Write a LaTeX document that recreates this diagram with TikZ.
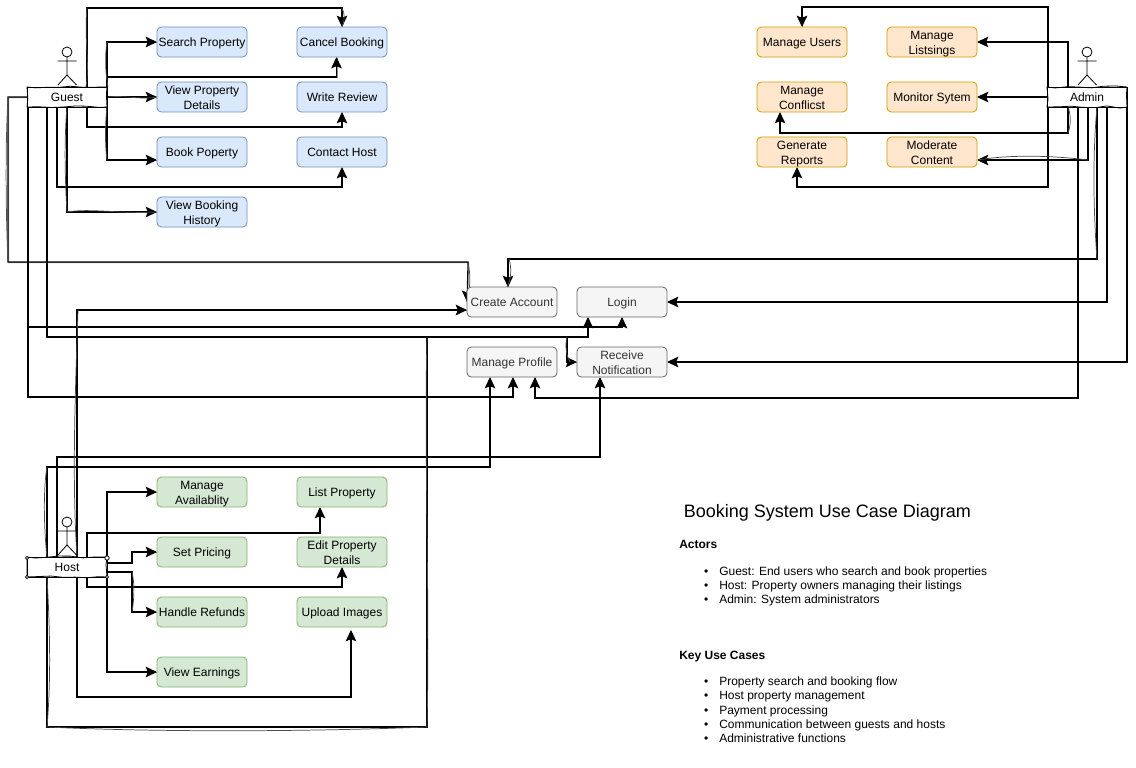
\documentclass[tikz,border=0pt]{standalone}
\usepackage{fontspec}
\setmainfont{Liberation Sans}
\usetikzlibrary{arrows.meta,decorations.pathmorphing,backgrounds}
\definecolor{blueF}{HTML}{DAE8FC}\definecolor{blueD}{HTML}{6C8EBF}
\definecolor{orF}{HTML}{FFE6CC}\definecolor{orD}{HTML}{D79B00}
\definecolor{grF}{HTML}{D5E8D4}\definecolor{grD}{HTML}{82B366}
\definecolor{gyF}{HTML}{F5F5F5}\definecolor{gyD}{HTML}{666666}\definecolor{gyT}{HTML}{333333}
\tikzset{
  uc/.style={rounded corners=3.2pt,minimum width=67.5pt,minimum height=22.5pt,inner sep=0pt,outer sep=0pt,
     font=\fontsize{9}{11.25}\selectfont,line width=.6pt,draw,
     execute at begin node={\rule[-2.2pt]{0pt}{10.4pt}}},
  twolines/.style={execute at begin node={}},
  ucblue/.style={uc,fill=blueF,draw=blueD},
  ucor/.style={uc,fill=orF,draw=orD},
  ucgr/.style={uc,fill=grF,draw=grD},
  ucgy/.style={uc,fill=gyF,draw=gyD,text=gyT},
  actorbox/.style={minimum width=60pt,minimum height=15pt,inner sep=0pt,outer sep=0pt,font=\fontsize{9}{11.25}\selectfont,
     fill=white,draw=black,line width=.7pt,
     postaction={draw=black,line width=.6pt,decorate,decoration={random steps,segment length=9pt,amplitude=.8pt}}},
  conn/.style={draw=black,line width=.8pt,-{Stealth[length=8.5pt,width=8pt,inset=1.6pt]},
     preaction={draw=black!45,-,line width=.6pt,transform canvas={shift={(.5pt,-.45pt)}}}},
  bulge/.style={draw=black!70,line width=.55pt},
  stick/.style={draw=black,line width=.6pt},
  txt/.style={anchor=base west,inner sep=0pt,font=\fontsize{9}{11.25}\selectfont},
  head/.style={anchor=base west,inner sep=0pt,font=\fontsize{9}{11.25}\selectfont\bfseries},
  titletxt/.style={anchor=base west,inner sep=0pt,font=\fontsize{13.5}{16}\selectfont},
}
\newcommand{\stickman}[1]{%
  \begin{scope}[shift={(#1.north)}]
    \draw[stick,fill=white] (0,-35) circle[radius=5];
    \draw[stick] (0,-30) -- (0,-12) (-9.5,-26) -- (9.5,-26) (-9,-2) -- (0,-12) -- (9.5,-2);
  \end{scope}}
\newcommand{\itemtxt}[3]{\node[txt] (#1) at (719,#2) {\llap{•\hspace{8.2pt}}#3};}
\newcommand{\twol}[2]{\raisebox{3.75pt}[0pt][4pt]{\begin{tabular}[t]{@{}c@{}}#1\\#2\end{tabular}}}
\begin{document}
\begin{tikzpicture}[x=.75pt,y=-.75pt]
\pgfmathsetseed{7}
\useasboundingbox (0,0) rectangle (1136,768);
% actors
\node[actorbox] (guest) at (67,97) {Guest};
\node[actorbox] (host) at (67,567) {Host};
\node[actorbox] (admin) at (1087,97) {Admin};
% guest use cases
\node[ucblue] (search) at (202,42) {Search Property};
\node[ucblue,twolines] (viewprop) at (202,97) {\twol{View Property}{Details}};
\node[ucblue] (book) at (202,152) {Book Poperty};
\node[ucblue,twolines] (history) at (202,212) {\twol{View Booking}{History}};
\node[ucblue] (cancel) at (342,42) {Cancel Booking};
\node[ucblue] (review) at (342,97) {Write Review};
\node[ucblue] (contact) at (342,152) {Contact Host};
% admin use cases
\node[ucor] (users) at (802,42) {Manage Users};
\node[ucor,twolines] (listings) at (932,42) {\twol{Manage}{Listsings}};
\node[ucor,twolines] (conflict) at (802,97) {\twol{Manage}{Conflicst}};
\node[ucor] (monitor) at (932,97) {Monitor Sytem};
\node[ucor,twolines] (reports) at (802,152) {\twol{Generate}{Reports}};
\node[ucor,twolines] (moderate) at (932,152) {\twol{Moderate}{Content}};
% shared
\node[ucgy] (create) at (512,302) {Create Account};
\node[ucgy] (login) at (622,302) {Login};
\node[ucgy] (profile) at (512,362) {Manage Profile};
\node[ucgy,twolines] (notify) at (622,362) {\twol{Receive}{Notification}};
% host use cases
\node[ucgr,twolines] (avail) at (202,492) {\twol{Manage}{Availablity}};
\node[ucgr] (pricing) at (202,552) {Set Pricing};
\node[ucgr] (refunds) at (202,612) {Handle Refunds};
\node[ucgr] (earnings) at (202,672) {View Earnings};
\node[ucgr] (listprop) at (342,492) {List Property};
\node[ucgr,twolines] (editprop) at (342,552) {\twol{Edit Property}{Details}};
\node[ucgr] (upload) at (342,612) {Upload Images};
% connectors
\begin{pgfonlayer}{background}
\fill[white] (0,0) rectangle (1136,768);
% guest
\draw[conn] (87,0 |- guest.north) -- (87,8) -- (342,8) -- (cancel.north);
\draw[conn] (107,0 |- guest.north) -- (107,42) -- (search.west);
\draw[conn] (107,0 |- guest.north) -- (107,77) -- (336.5,77) -- (336.5,0 |- cancel.south);
\draw[conn] (guest.east) -- (viewprop.west);
\draw[conn] (87,0 |- guest.south) -- (87,127) -- (342,127) -- (review.south);
\draw[conn] (107,0 |- guest.south) -- (107,160) -- (book.west |- 0,160);
\draw[conn] (57,0 |- guest.south) -- (57,187) -- (342,187) -- (contact.south);
\draw[conn] (67,0 |- guest.south) -- (67,212) -- (history.west);
\draw[conn] (guest.west) -- (8,97) -- (8,262) -- (468,262) -- (create.west);
\draw[conn] (28,0 |- guest.south) -- (28,397) -- (513,397) -- (513,0 |- profile.south);
\draw[conn] (28,0 |- guest.south) -- (28,327) -- (622,327) -- (login.south);
\draw[conn] (47,0 |- guest.south) -- (47,337) -- (588,337) -- (588,0 |- login.south);
% host
\draw[conn] (57,0 |- host.north) -- (57,457) -- (600,457) -- (600,0 |- notify.south);
\draw[conn] (47,0 |- host.north) -- (47,467) -- (490,467) -- (490,0 |- profile.south);
\draw[conn] (77,0 |- host.north) -- (77,310) -- (create.west |- 0,310);
\draw[conn] (107,0 |- host.north) -- (107,492) -- (avail.west);
\draw[conn] (87,0 |- host.north) -- (87,533) -- (320,533) -- (320,0 |- listprop.south);
\draw[conn] (host.east |- 0,563) -- (132,563) -- (132,552) -- (pricing.west);
\draw[conn] (host.east |- 0,572) -- (132,572) -- (132,612) -- (refunds.west);
\draw[conn] (87,0 |- host.south) -- (87,587) -- (342,587) -- (editprop.south);
\draw[conn] (107,0 |- host.south) -- (107,672) -- (earnings.west);
\draw[conn] (77,0 |- host.south) -- (77,697) -- (351,697) -- (351,630);
\draw[conn] (47,0 |- host.south) -- (47,727) -- (427,727) -- (427,337) -- (567,337) -- (567,362) -- (notify.west);
% admin
\draw[conn] (1048,0 |- admin.north) -- (1048,7) -- (802,7) -- (users.north);
\draw[conn] (1068,0 |- admin.north) -- (1068,42) -- (listings.east);
\draw[conn] (admin.west) -- (monitor.east);
\draw[conn] (1068,0 |- admin.south) -- (1068,133) -- (780,133) -- (780,0 |- conflict.south);
\draw[conn] (1088,0 |- admin.south) -- (1088,160) -- (moderate.east |- 0,160);
\draw[conn] (1048,0 |- admin.south) -- (1048,187) -- (797,187) -- (797,0 |- reports.south);
\draw[conn] (1078,0 |- admin.south) -- (1078,398) -- (535,398) -- (535,0 |- profile.south);
\draw[conn] (1097,0 |- admin.south) -- (1097,259) -- (508,259) -- (508,0 |- create.north);
\draw[conn] (1107,0 |- admin.south) -- (1107,302) -- (login.east);
\draw[conn] (1127,0 |- admin.south) -- (1127,362) -- (notify.east);
% visible second strokes of the hand-drawn lines
\draw[bulge] (87,8) .. controls (84,40) and (90,60) .. (86,87);
\draw[bulge] (342,8) .. controls (345,14) and (345,20) .. (342,27);
\draw[bulge] (468,262) .. controls (471,275) and (470,290) .. (467,302);
\draw[bulge] (509,259) .. controls (512,268) and (511,280) .. (507,287);
\draw[bulge] (567,337) .. controls (565,345) and (566,355) .. (570,362);
\draw[bulge] (1068,107) .. controls (1071,115) and (1071,125) .. (1068,133);
\draw[bulge] (1088,160) .. controls (1040,154) and (1000,156) .. (978,160);
\draw[bulge] (1097,107) .. controls (1092,160) and (1094,220) .. (1097,259);
\draw[bulge] (77,557) .. controls (72,480) and (75,400) .. (78,310);
\draw[bulge] (47,467) .. controls (43,490) and (44,530) .. (47,557);
\draw[bulge] (47,577) .. controls (50,630) and (51,680) .. (47,727);
\draw[bulge] (47,727) .. controls (150,732) and (300,732) .. (427,727);
\draw[bulge] (427,727) .. controls (430,600) and (424,450) .. (427,337);
\draw[bulge] (108,87) .. controls (105,70) and (105,55) .. (107,42);
\draw[bulge] (107,107) .. controls (105,125) and (105,145) .. (107,160);
\draw[bulge] (67,107) .. controls (64,140) and (65,180) .. (67,212);
\draw[bulge] (132,572) .. controls (135,585) and (134,600) .. (132,612);
\draw[bulge] (108,97) .. controls (125,95) and (140,100) .. (157,97);
\draw[bulge] (67,212) .. controls (90,208) and (120,214) .. (157,212);
\draw[bulge] (8,97) .. controls (5,150) and (6,220) .. (8,262);
\end{pgfonlayer}
% stick figures
\stickman{guest}\stickman{host}\stickman{admin}
% corner curls of the host box
\foreach \cx/\cy/\cr in {107/558/2.2,107/577/1.6,27/558/1.6,27/577/1.6}
  \draw[stick,fill=white] (\cx,\cy) circle[radius=\cr];
% notes
\node[titletxt] (title) at (683.5,517) {Booking System Use Case Diagram};
\node[head] (actorsh) at (679,548) {Actors};
\itemtxt{a1}{575}{Guest: End users who search and book properties}
\itemtxt{a2}{589}{Host: Property owners managing their listings}
\itemtxt{a3}{603}{Admin: System administrators}
\node[head] (keyh) at (679,659) {Key Use Cases};
\itemtxt{k1}{685}{Property search and booking flow}
\itemtxt{k2}{699}{Host property management}
\itemtxt{k3}{714}{Payment processing}
\itemtxt{k4}{728}{Communication between guests and hosts}
\itemtxt{k5}{742}{Administrative functions}
\end{tikzpicture}
\end{document}
